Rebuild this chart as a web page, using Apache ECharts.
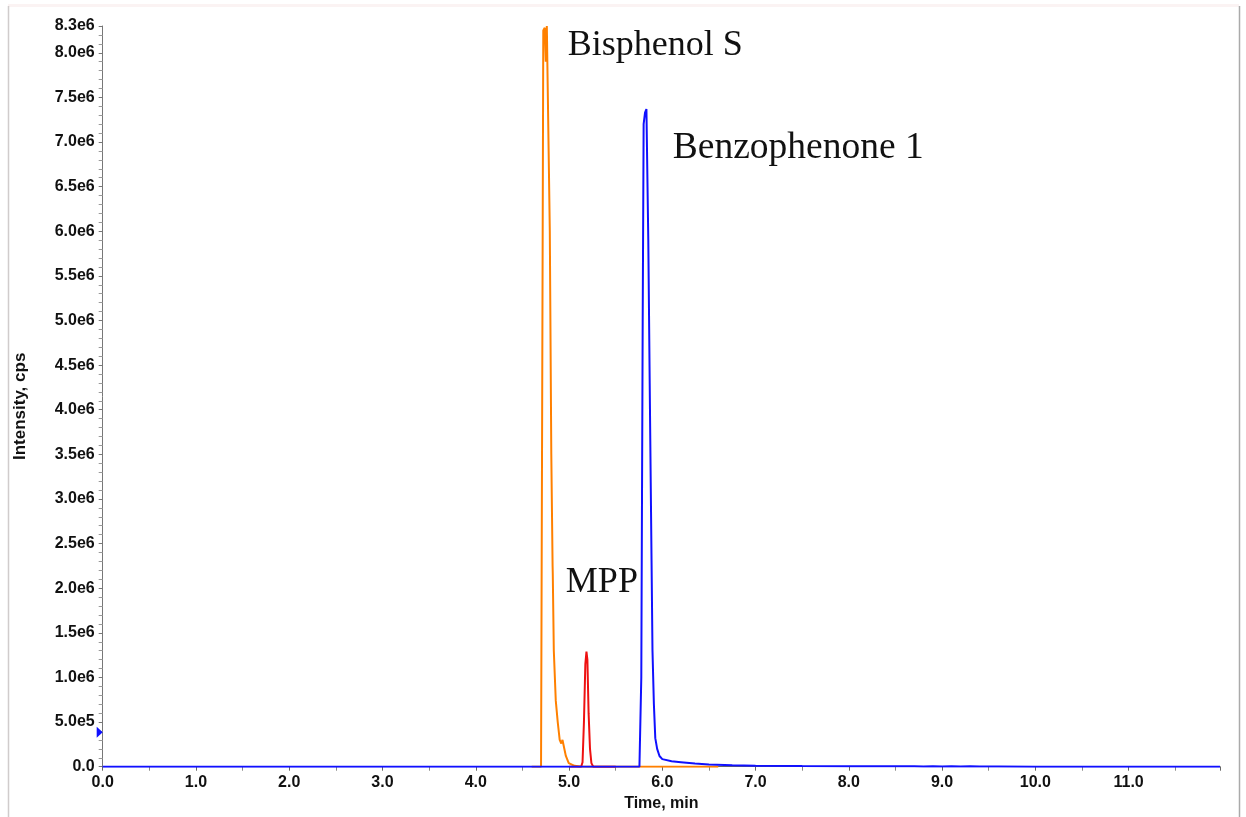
<!DOCTYPE html>
<html>
<head>
<meta charset="utf-8">
<script src="https://cdn.jsdelivr.net/npm/echarts@6/dist/echarts.min.js"></script>
<style>
html,body{margin:0;padding:0;background:#fff;}
#chart{width:1246px;height:817px;}
</style>
</head>
<body>
<div id="chart"></div>
<script>
// ---- data (time in min, intensity in cps) ----
const bpsTime = [4.60, 4.700, 4.712, 4.724, 4.740, 4.751, 4.762, 4.778, 4.794, 4.810, 4.824, 4.826, 4.837, 4.858, 4.879, 4.900, 4.917, 4.930, 4.944, 4.966, 4.997, 5.06, 5.12, 5.20, 6.00, 6.60];
const bpsInt  = [0, 0, 4.0e6, 8.25e6, 8.28e6, 7.9e6, 8.3e6, 8.3e6, 6.0e6, 3.5e6, 2.25e6, 2.15e6, 1.3e6, 7.4e5, 5.0e5, 3.0e5, 2.6e5, 3.0e5, 2.8e5, 1.2e5, 4.0e4, 1.0e4, 3.0e3, 0, 0, 0];

const mppTime = [5.00, 5.130, 5.145, 5.160, 5.175, 5.187, 5.197, 5.210, 5.225, 5.240, 5.260, 5.50];
const mppInt  = [0, 0, 5.0e4, 5.0e5, 1.15e6, 1.29e6, 1.2e6, 6.0e5, 2.0e5, 4.0e4, 0, 0];

const bp1Time = [0.0, 5.755, 5.775, 5.790, 5.800, 5.815, 5.830, 5.850, 5.868, 5.885, 5.895, 5.910, 5.925, 5.945, 5.970, 6.00, 6.10, 6.20, 6.35, 6.50, 6.75, 7.00, 7.50, 8.00, 8.70, 8.80, 8.90, 9.00, 9.10, 9.20, 9.30, 9.40, 9.60, 10.0, 11.98];
const bp1Int  = [0, 0, 1.0e6, 5.0e6, 7.2e6, 7.33e6, 7.37e6, 5.9e6, 4.0e6, 2.3e6, 1.3e6, 7.0e5, 3.2e5, 2.0e5, 1.2e5, 8.5e4, 6.0e4, 5.0e4, 3.5e4, 2.5e4, 1.6e4, 1.2e4, 8.0e3, 6.0e3, 5.0e3, 2.0e3, 6.0e3, 3.0e3, 5.0e3, 2.0e3, 4.0e3, 1.0e3, 1.0e3, 0, 0];

const xTickLabels = ['0.0','1.0','2.0','3.0','4.0','5.0','6.0','7.0','8.0','9.0','10.0','11.0'];
const annotations = [
  {name: 'Bisphenol S', coord: [4.987, 8.08e6], size: 36},
  {name: 'Benzophenone 1', coord: [6.112, 6.93e6], size: 37.5},
  {name: 'MPP', coord: [4.966, 2.066e6], size: 36}
];
const markerValue = 3.85e5;

function pairs(t, v){ return t.map((x,i)=>[x, v[i]]); }

const labelFont = {fontFamily: '"Liberation Sans", Arial, sans-serif', fontWeight: 'bold', fontSize: 16, color: '#111'};

function yFmt(v){
  if (v === 0) return '0.0';
  const e = Math.floor(Math.log10(v) + 1e-9);
  const m = v / Math.pow(10, e);
  return m.toFixed(1) + 'e' + e;
}

const chart = echarts.init(document.getElementById('chart'), null, {renderer: 'canvas'});
const option = {
  animation: false,
  backgroundColor: '#fff',
  grid: {left: 102.7, right: 26, top: 26, bottom: 50.3, containLabel: false},
  xAxis: {
    type: 'value', min: 0, max: 11.98, interval: 1,
    name: 'Time, min', nameLocation: 'middle', nameGap: 29,
    nameTextStyle: labelFont,
    axisLine: {show: true, lineStyle: {color: '#666', width: 1}},
    axisTick: {show: true, length: 4, lineStyle: {color: '#666'}},
    minorTick: {show: true, splitNumber: 2, length: 4, lineStyle: {color: '#888'}},
    axisLabel: Object.assign({margin: 8, showMaxLabel: false, formatter: function(v){ const i = Math.round(v); return (Math.abs(v-i)<1e-6 && i < xTickLabels.length) ? xTickLabels[i] : ''; }}, labelFont),
    splitLine: {show: false}
  },
  yAxis: {
    type: 'value', min: 0, max: 8.3e6, interval: 5e5,
    name: 'Intensity, cps', nameLocation: 'middle', nameGap: 74,
    nameTextStyle: Object.assign({}, labelFont, {fontSize: 17, padding: [0, 20, 0, 0]}),
    axisLine: {show: true, lineStyle: {color: '#777', width: 1}},
    axisTick: {show: true, length: 4, lineStyle: {color: '#777'}},
    minorTick: {show: true, splitNumber: 5, length: 4, lineStyle: {color: '#999'}},
    axisLabel: Object.assign({margin: 8, showMaxLabel: true, formatter: yFmt}, labelFont),
    splitLine: {show: false}
  },
  graphic: [
    {type: 'rect', shape: {x: 8, y: 4, width: 1231, height: 3}, style: {fill: '#fbf3f3'}, silent: true},
    {type: 'line', shape: {x1: 8.5, y1: 6, x2: 8.5, y2: 817}, style: {stroke: '#d0cccc', lineWidth: 1.5}, silent: true},
    {type: 'line', shape: {x1: 1239.5, y1: 6, x2: 1239.5, y2: 817}, style: {stroke: '#aaaaaa', lineWidth: 1.5}, silent: true}
  ],
  series: [
    {
      name: 'Bisphenol S', type: 'line', data: pairs(bpsTime, bpsInt),
      showSymbol: false, symbol: 'none', lineStyle: {color: '#ff8000', width: 2}, itemStyle: {color: '#ff8000'}, z: 2,
      markPoint: {
        symbol: 'circle', symbolSize: 0, silent: true,
        label: {show: true, position: 'right', distance: 0, formatter: '{b}', fontFamily: '"Liberation Serif", "Times New Roman", serif', fontSize: 36, color: '#111'},
        data: annotations.map(a => ({name: a.name, coord: a.coord, label: {fontSize: a.size}}))
      }
    },
    {
      name: 'MPP', type: 'line', data: pairs(mppTime, mppInt),
      showSymbol: false, symbol: 'none', lineStyle: {color: '#ee1111', width: 2}, itemStyle: {color: '#ee1111'}, z: 3
    },
    {
      name: 'Benzophenone 1', type: 'line', data: pairs(bp1Time, bp1Int),
      showSymbol: false, symbol: 'none', lineStyle: {color: '#1010ff', width: 2}, itemStyle: {color: '#1010ff'}, z: 4,
      markPoint: {
        silent: true, symbol: 'triangle', symbolSize: [11, 6], symbolRotate: -90, symbolOffset: [-3, 0],
        itemStyle: {color: '#1010ff'}, label: {show: false},
        data: [{coord: [0, markerValue]}]
      }
    }
  ]
};
chart.setOption(option);
</script>
</body>
</html>
